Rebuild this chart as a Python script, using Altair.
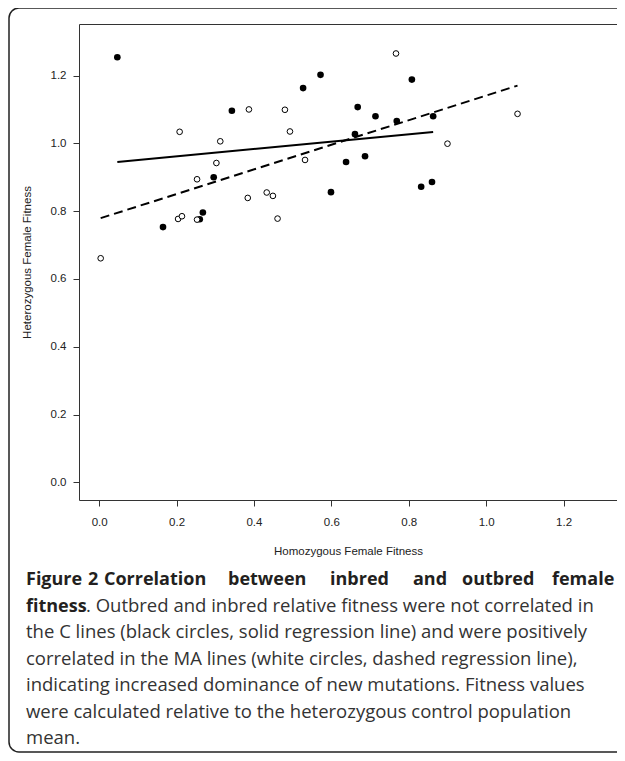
import altair as alt
import pandas as pd

# C lines (black circles)
c_x = [0.047, 0.343, 0.296, 0.268, 0.260, 0.165, 0.572, 0.527, 0.808, 0.668,
       0.714, 0.769, 0.863, 0.661, 0.638, 0.687, 0.599, 0.832, 0.860]
c_y = [1.254, 1.096, 0.900, 0.796, 0.776, 0.753, 1.202, 1.163, 1.188, 1.107,
       1.080, 1.066, 1.080, 1.027, 0.945, 0.962, 0.856, 0.872, 0.886]

# MA lines (white circles)
ma_x = [0.387, 0.208, 0.313, 0.303, 0.253, 0.384, 0.433, 0.449, 0.461, 0.204,
        0.214, 0.253, 0.004, 0.767, 0.480, 0.493, 0.900, 0.532, 1.081]
ma_y = [1.100, 1.034, 1.006, 0.942, 0.894, 0.839, 0.855, 0.845, 0.778, 0.777,
        0.785, 0.775, 0.661, 1.265, 1.099, 1.035, 0.999, 0.951, 1.087]

tick_values = [0.0, 0.2, 0.4, 0.6, 0.8, 1.0, 1.2]
x_title = "Homozygous Female Fitness"
y_title = "Heterozygous Female Fitness"

caption_bold_words = ["Figure", "2", "Correlation", "between", "inbred", "and",
                      "outbred", "female"]
caption_bold_2 = "fitness"
caption_lines = [
    ". Outbred and inbred relative fitness were not correlated in",
    "the C lines (black circles, solid regression line) and were positively",
    "correlated in the MA lines (white circles, dashed regression line),",
    "indicating increased dominance of new mutations. Fitness values",
    "were calculated relative to the heterozygous control population",
    "mean.",
]

df_c = pd.DataFrame({"x": c_x, "y": c_y})
df_ma = pd.DataFrame({"x": ma_x, "y": ma_y})
one = alt.Data(values=[{"a": 1}])

W, H = 538, 476
x_dom = [-0.052, 1.338]
y_dom = [-0.052, 1.352]
AX_FONT = "Liberation Sans"

xs = alt.Scale(domain=x_dom, nice=False, zero=False)
ys = alt.Scale(domain=y_dom, nice=False, zero=False)

x_axis = alt.Axis(values=tick_values, format=".1f", grid=False, domain=False,
                  tickSize=6, tickColor="#333", tickWidth=1,
                  labelPadding=10, labelFont=AX_FONT, labelFontSize=11.5,
                  labelColor="#222", titleFont=AX_FONT, titleFontSize=11.5,
                  titleFontWeight="normal", titleColor="#222", titlePadding=18)
y_axis = alt.Axis(values=tick_values, format=".1f", grid=False, domain=False,
                  tickSize=6, tickColor="#333", tickWidth=1,
                  labelPadding=7, labelFont=AX_FONT, labelFontSize=11.5,
                  labelColor="#222", titleFont=AX_FONT, titleFontSize=11.5,
                  titleFontWeight="normal", titleColor="#222", titlePadding=18)

X = alt.X("x:Q", scale=xs, axis=x_axis, title=x_title)
Y = alt.Y("y:Q", scale=ys, axis=y_axis, title=y_title)

border = alt.Chart(one).mark_rect(
    fill="white", fillOpacity=0, stroke="#222", strokeWidth=1.5, cornerRadius=10
).encode(x=alt.value(-70), x2=alt.value(560), y=alt.value(-16), y2=alt.value(728))

pts_c = alt.Chart(df_c).mark_circle(size=44, color="black", opacity=1).encode(x=X, y=Y)

pts_ma = alt.Chart(df_ma).mark_point(
    shape="circle", filled=True, fill="white", fillOpacity=1,
    stroke="black", strokeWidth=1, size=32, opacity=1
).encode(x=X, y=Y)

reg_c = alt.Chart(df_c).transform_regression("x", "y").mark_line(
    color="black", strokeWidth=2
).encode(x=X, y=Y)

reg_ma = alt.Chart(df_ma).transform_regression("x", "y").mark_line(
    color="black", strokeWidth=2, strokeDash=[9, 5]
).encode(x=X, y=Y)

CAP_FONT = "Open Sans"
BOLD_SIZE = 18
CAP_SIZE = 18.5
ORIG_X = 79
base0 = 561
step = 26.5
# left edges (page px) of the bold words of the justified first caption line
bold_word_left = [26, 88, 104, 228, 330, 413, 462, 552]

caps = []
for word, left in zip(caption_bold_words, bold_word_left):
    caps.append(alt.Chart(one).mark_text(
        text=word, font=CAP_FONT, fontSize=BOLD_SIZE, fontWeight="bold",
        color="#231f20", align="left", baseline="alphabetic"
    ).encode(x=alt.value(left - ORIG_X), y=alt.value(base0)))
caps.append(alt.Chart(one).mark_text(
    text=caption_bold_2, font=CAP_FONT, fontSize=BOLD_SIZE, fontWeight="bold",
    color="#231f20", align="left", baseline="alphabetic"
).encode(x=alt.value(26 - ORIG_X), y=alt.value(base0 + step)))
for i, line in enumerate(caption_lines):
    left = 86 if i == 0 else 26
    caps.append(alt.Chart(one).mark_text(
        text=line, font=CAP_FONT, fontSize=CAP_SIZE, fontWeight="normal",
        color="#333333", align="left", baseline="alphabetic"
    ).encode(x=alt.value(left - ORIG_X), y=alt.value(base0 + step * (i + 1))))

chart = alt.layer(pts_c, border, reg_c, reg_ma, pts_ma, *caps).properties(
    width=W, height=H,
    background="white",
    autosize=alt.AutoSizeParams(type="none"),
    padding={"left": 71, "top": 16, "right": 0, "bottom": 253},
).configure_view(stroke="#333", strokeWidth=1)

chart.save("out.html", embed_options={"renderer": "svg", "actions": False})
